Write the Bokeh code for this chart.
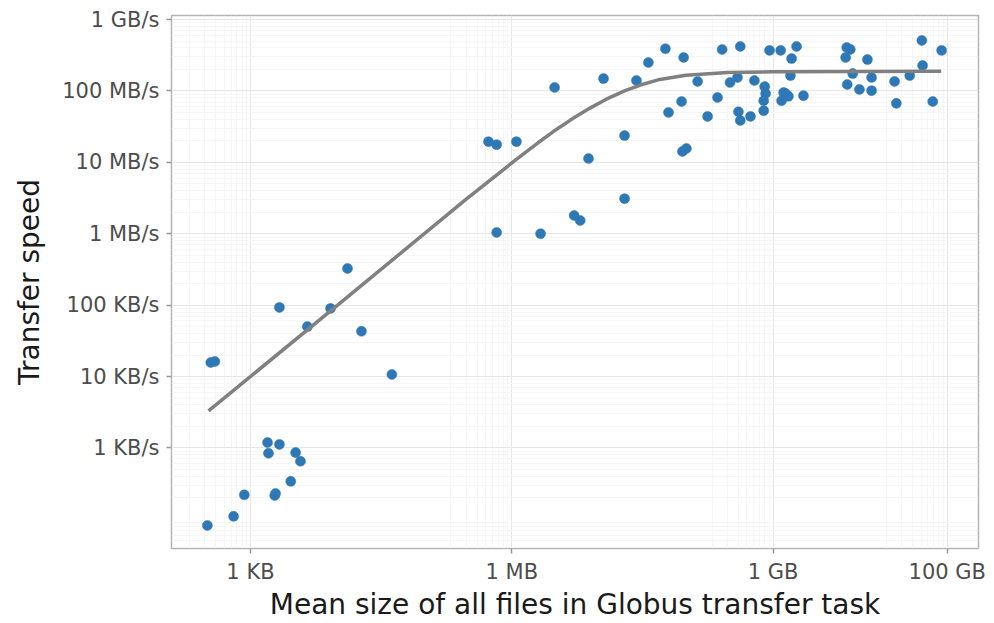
from bokeh.plotting import figure
from bokeh.models import FixedTicker, ColumnDataSource
from bokeh.embed import file_html
from bokeh.resources import INLINE

# Mean file size (bytes) and transfer speed (bytes/s) of each Globus task
sizes = [
    3.2e2, 6.4e2, 8.5e2, 1.57e3, 1.61e3, 2.15e3, 3.3e3, 3.75e3, 2.9e3, 1.9e3, 1.94e3,
    3.5e2, 3.9e2, 2.15e3, 4.5e3, 8.3e3, 1.3e4, 1.88e4, 4.2e4,
    5.4e5, 6.7e5, 1.13e6, 3.1e6, 6.7e5, 2.14e6, 5.2e6, 6.1e6, 7.6e6, 1.13e7,
    1.97e7, 1.97e7, 2.7e7, 3.7e7, 5.8e7, 9.4e7, 2.6e8, 4.2e8, 9.1e8, 1.22e9,
    1.86e9, 1.63e9, 1.36e8, 3.2e8, 3.9e8, 6.1e8, 1.58e9, 8.0e8, 8.2e8, 7.8e8,
    7.8e8, 1.25e9, 1.39e9, 1.5e9, 1.32e9, 2.23e9, 2.3e8, 8.9e7, 6.3e7, 1.77e8,
    4.0e8, 4.2e8, 5.5e8, 9.1e7, 1.01e8,
    7.0e9, 7.7e9, 6.8e9, 1.21e10, 8.2e9, 7.1e9, 9.8e9, 1.35e10, 1.35e10, 2.48e10,
    2.6e10, 3.7e10, 5.1e10, 5.2e10, 6.8e10, 8.6e10,
]
speeds = [
    82, 1.1e2, 2.2e2, 1.19e3, 8.4e2, 1.12e3, 8.6e2, 6.5e2, 3.4e2, 2.15e2, 2.3e2,
    1.57e4, 1.62e4, 9.3e4, 5.0e4, 9.0e4, 3.26e5, 4.3e4, 1.07e4,
    1.95e7, 1.77e7, 1.95e7, 1.12e8, 1.04e6, 1.0e6, 1.8e6, 1.53e6, 1.13e7, 1.49e8,
    2.37e7, 3.1e6, 1.4e8, 2.5e8, 3.9e8, 2.94e8, 3.8e8, 4.2e8, 3.7e8, 3.7e8,
    4.2e8, 2.84e8, 1.36e8, 1.31e8, 1.54e8, 1.4e8, 1.64e8, 1.15e8, 9.2e7, 7.3e7,
    5.3e7, 7.3e7, 9.2e7, 8.4e7, 9.5e7, 8.6e7, 8.1e7, 7.1e7, 5.0e7, 4.4e7,
    5.1e7, 3.85e7, 4.4e7, 1.42e7, 1.56e7,
    4.05e8, 3.8e8, 2.94e8, 2.75e8, 1.75e8, 1.23e8, 1.05e8, 1.54e8, 1.01e8, 1.36e8,
    6.7e7, 1.64e8, 5.1e8, 2.27e8, 7.1e7, 3.7e8,
]

# Fitted curve
fit_size = [3.3e2, 1e4, 3e5, 1e6, 1.5e6, 2e6, 3e6, 5e6, 8e6, 1.2e7, 2e7, 3e7,
            5e7, 1e8, 3e8, 1e9, 1e10, 8.5e10]
fit_speed = [3.3e3, 1.0e5, 3.05e6, 9.8e6, 1.44e7, 1.88e7, 2.7e7, 4.1e7, 5.8e7,
             7.6e7, 1.01e8, 1.21e8, 1.45e8, 1.66e8, 1.81e8, 1.86e8, 1.88e8, 1.89e8]

x_ticks = [1e3, 1e6, 1e9, 1e11]
x_labels = ["1 KB", "1 MB", "1 GB", "100 GB"]
y_ticks = [1e3, 1e4, 1e5, 1e6, 1e7, 1e8, 1e9]
y_labels = ["1 KB/s", "10 KB/s", "100 KB/s", "1 MB/s", "10 MB/s", "100 MB/s", "1 GB/s"]

FONT = "DejaVu Sans"

p = figure(width=994, height=623, x_axis_type="log", y_axis_type="log",
           x_range=(124, 2.28e11), y_range=(39, 1.14e9),
           output_backend="svg", toolbar_location=None,
           min_border_left=171, min_border_right=16, min_border_top=15,
           min_border_bottom=75)
p.background_fill_color = "white"
p.border_fill_color = "white"
p.outline_line_color = "#b3b3b3"
p.outline_line_width = 1.5

x_minor = [m * 10.0 ** e for e in (2, 5, 8, 10) for m in range(2, 10)]
y_minor = [m * 10.0 ** e for e in range(1, 10) for m in range(2, 10)]

p.xaxis.ticker = FixedTicker(ticks=x_ticks, minor_ticks=x_minor)
p.yaxis.ticker = FixedTicker(ticks=y_ticks, minor_ticks=y_minor)
p.xgrid.ticker = FixedTicker(ticks=x_ticks, minor_ticks=x_minor)
p.ygrid.ticker = FixedTicker(ticks=y_ticks, minor_ticks=y_minor)

p.xaxis.major_label_overrides = {t: l for t, l in zip(x_ticks, x_labels)}
p.yaxis.major_label_overrides = {t: l for t, l in zip(y_ticks, y_labels)}

for g in (p.xgrid, p.ygrid):
    g.grid_line_color = "#e6e6e6"
    g.grid_line_width = 1
    g.minor_grid_line_color = "#f4f4f4"
    g.minor_grid_line_width = 0.8

for ax in (p.xaxis, p.yaxis):
    ax.axis_line_color = None
    ax.major_tick_line_color = "#999999"
    ax.major_tick_line_width = 1.5
    ax.major_tick_out = 5
    ax.major_tick_in = 0
    ax.minor_tick_line_color = None
    ax.major_label_text_font = FONT
    ax.major_label_text_font_size = "21px"
    ax.major_label_text_color = "#4d4d4d"
    ax.axis_label_text_font = FONT
    ax.axis_label_text_font_size = "28px"
    ax.axis_label_text_font_style = "normal"
    ax.axis_label_text_color = "#1a1a1a"

p.xaxis.axis_label = "Mean size of all files in Globus transfer task"
p.yaxis.axis_label = "Transfer speed"
p.xaxis.major_label_standoff = 6
p.xaxis.axis_label_standoff = 1
p.yaxis.major_label_standoff = 7
p.yaxis.axis_label_standoff = 13

src = ColumnDataSource(dict(size=sizes, speed=speeds))
p.scatter("size", "speed", source=src, size=10, fill_color="#2f78b6",
          line_color="#2f78b6", line_width=0.5)
p.line(fit_size, fit_speed, line_color="#808080", line_width=3.5)

open("out.html", "w").write(file_html(p, INLINE))
